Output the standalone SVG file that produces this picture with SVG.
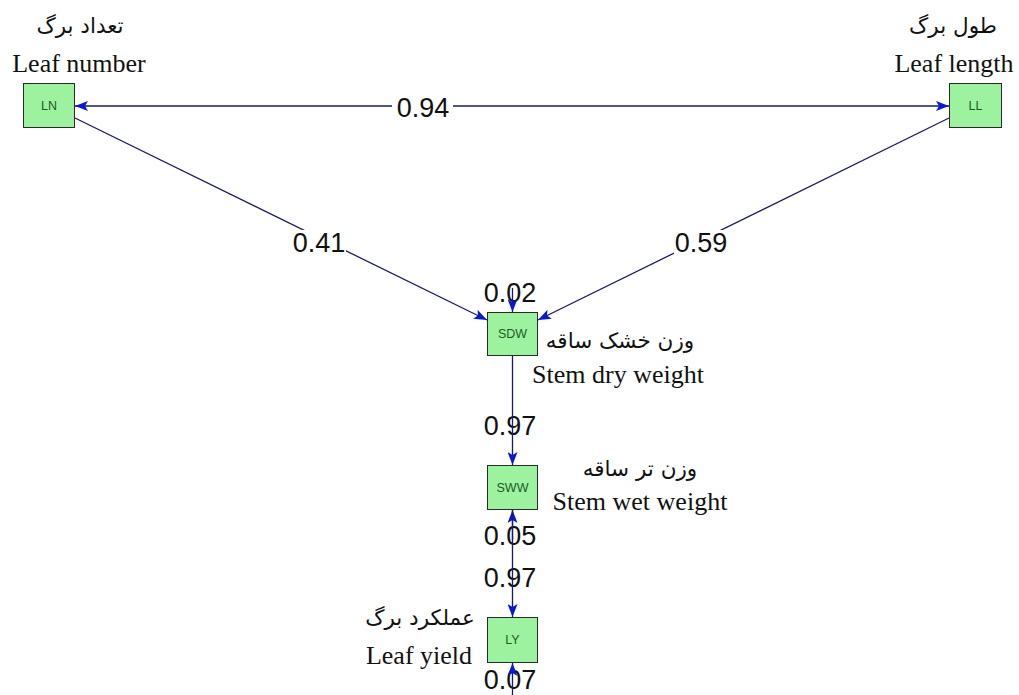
<svg xmlns="http://www.w3.org/2000/svg" width="1019" height="695" viewBox="0 0 1019 695">
  <style>
    .box { fill: #9df29f; stroke: #2a2a2a; stroke-width: 1; }
    .code { font-family: "Liberation Sans", Arial, sans-serif; font-size: 12.5px; fill: #1d5a26; text-anchor: middle; }
    .en { font-family: "Liberation Serif", "Times New Roman", serif; font-size: 26px; fill: #111; text-anchor: middle; }
    .fa { font-family: "DejaVu Sans", "Noto Sans", sans-serif; font-size: 21.5px; fill: #111; text-anchor: middle; }
    .edge { stroke: #1a1a66; stroke-width: 1.3; fill: none; }
    .coef { font-family: "Liberation Sans", Arial, sans-serif; font-size: 27px; fill: #111; text-anchor: middle; }
    .bg { fill: #ffffff; }
  </style>
  <defs>
    <marker id="head" viewBox="0 0 13 10" refX="13" refY="5" markerWidth="13" markerHeight="10" markerUnits="userSpaceOnUse" orient="auto-start-reverse">
      <path d="M0,0 L13,5 L0,10 L3,5 z" fill="#0a18d6"/>
    </marker>
  </defs>
  <rect width="1019" height="695" fill="#ffffff"/>

  <g id="connectors">
    <!-- correlation between the two leaf traits -->
    <line class="edge" x1="75" y1="106" x2="949" y2="106" marker-start="url(#head)" marker-end="url(#head)"/>
    <rect class="bg" x="392" y="94" width="61" height="26"/>
    <text class="coef" x="423" y="117">0.94</text>

    <!-- LN -> SDW -->
    <line class="edge" x1="75" y1="118" x2="487" y2="320" marker-end="url(#head)"/>
    <rect class="bg" x="292" y="230" width="54" height="24"/>
    <text class="coef" x="319" y="252">0.41</text>

    <!-- LL -> SDW -->
    <line class="edge" x1="949" y1="118" x2="538" y2="320" marker-end="url(#head)"/>
    <rect class="bg" x="674" y="230" width="55" height="24"/>
    <text class="coef" x="701" y="252">0.59</text>

    <!-- residual on SDW -->
    <text class="coef" x="510" y="302">0.02</text>
    <line class="edge" x1="512.5" y1="288" x2="512.5" y2="312" marker-end="url(#head)"/>

    <!-- SDW -> SWW -->
    <text class="coef" x="510" y="435">0.97</text>
    <line class="edge" x1="512.5" y1="356" x2="512.5" y2="465" marker-end="url(#head)"/>

    <!-- residual on SWW -->
    <text class="coef" x="510" y="545">0.05</text>
    <line class="edge" x1="512.5" y1="540" x2="512.5" y2="510" marker-end="url(#head)"/>

    <!-- SWW -> LY -->
    <text class="coef" x="510" y="587">0.97</text>
    <line class="edge" x1="512.5" y1="510" x2="512.5" y2="617" marker-end="url(#head)"/>

    <!-- residual on LY -->
    <text class="coef" x="510" y="689">0.07</text>
    <line class="edge" x1="512.5" y1="695" x2="512.5" y2="663" marker-end="url(#head)"/>
  </g>

  <g id="node-LN">
    <text class="fa" x="80" y="33">تعداد برگ</text>
    <text class="en" x="79" y="72">Leaf number</text>
    <rect class="box" x="23.5" y="83.5" width="51" height="44"/>
    <text class="code" x="49" y="110">LN</text>
  </g>

  <g id="node-LL">
    <text class="fa" x="953" y="33">طول برگ</text>
    <text class="en" x="954" y="72">Leaf length</text>
    <rect class="box" x="949.5" y="83.5" width="52" height="44"/>
    <text class="code" x="975.5" y="110">LL</text>
  </g>

  <g id="node-SDW">
    <rect class="box" x="487.5" y="312.5" width="50" height="43"/>
    <text class="code" x="512.5" y="338">SDW</text>
    <text class="fa" x="620" y="348">وزن خشک ساقه</text>
    <text class="en" x="618" y="383">Stem dry weight</text>
  </g>

  <g id="node-SWW">
    <rect class="box" x="487.5" y="465.5" width="50" height="44"/>
    <text class="code" x="512.5" y="492">SWW</text>
    <text class="fa" x="640" y="476">وزن تر ساقه</text>
    <text class="en" x="640" y="510">Stem wet weight</text>
  </g>

  <g id="node-LY">
    <rect class="box" x="487.5" y="617.5" width="50" height="45"/>
    <text class="code" x="512.5" y="644">LY</text>
    <text class="fa" x="420" y="625">عملکرد برگ</text>
    <text class="en" x="419" y="664">Leaf yield</text>
  </g>
</svg>
